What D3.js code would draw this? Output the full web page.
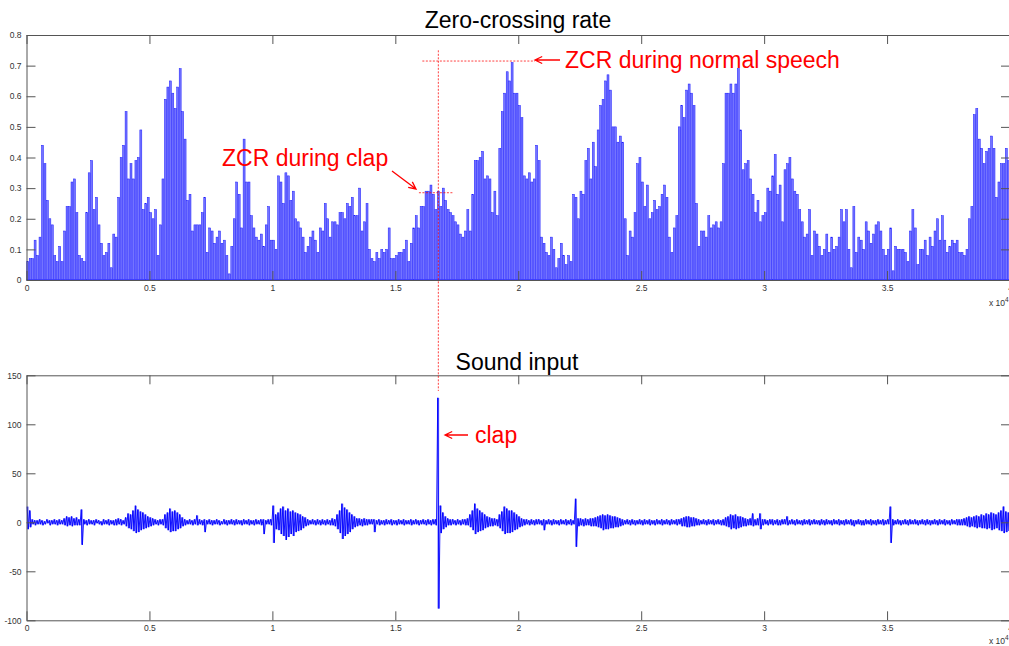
<!DOCTYPE html>
<html>
<head>
<meta charset="utf-8">
<script src="https://cdnjs.cloudflare.com/ajax/libs/d3/7.8.5/d3.min.js"></script>
<style>
body{margin:0;background:#fff;}
svg{display:block;font-family:"Liberation Sans",Arial,sans-serif;}
</style>
</head>
<body>
<svg id="fig" width="1009" height="646"></svg>
<script>
// zero-crossing rate, one value per 100 samples
var zcr = [
 0.06,0.07,0.07,0.13,0.08,0.14,0.44,0.38,0.26,0.20,
 0.18,0.08,0.06,0.11,0.06,0.16,0.24,0.24,0.32,0.33,
 0.22,0.08,0.07,0.06,0.22,0.35,0.39,0.23,0.27,0.18,
 0.12,0.08,0.09,0.12,0.04,0.15,0.14,0.27,0.40,0.44,
 0.55,0.33,0.38,0.33,0.39,0.40,0.49,0.23,0.25,0.27,
 0.22,0.20,0.23,0.08,0.18,0.33,0.59,0.63,0.65,0.61,
 0.56,0.63,0.69,0.55,0.46,0.26,0.28,0.16,0.18,0.18,
 0.18,0.22,0.27,0.09,0.17,0.16,0.12,0.14,0.16,0.12,
 0.13,0.08,0.02,0.11,0.20,0.32,0.28,0.17,0.46,0.32,
 0.32,0.21,0.17,0.14,0.13,0.15,0.11,0.18,0.24,0.13,
 0.13,0.10,0.34,0.32,0.25,0.35,0.34,0.26,0.29,0.20,
 0.19,0.17,0.14,0.09,0.11,0.14,0.16,0.13,0.09,0.17,
 0.16,0.25,0.20,0.14,0.19,0.19,0.18,0.22,0.22,0.20,
 0.25,0.24,0.27,0.21,0.21,0.30,0.16,0.19,0.25,0.10,
 0.07,0.06,0.09,0.07,0.10,0.09,0.10,0.17,0.07,0.07,
 0.08,0.09,0.09,0.10,0.13,0.06,0.12,0.17,0.21,0.17,
 0.24,0.24,0.29,0.29,0.31,0.28,0.23,0.29,0.24,0.30,
 0.26,0.23,0.22,0.21,0.19,0.18,0.15,0.14,0.16,0.23,
 0.16,0.28,0.39,0.39,0.40,0.42,0.33,0.34,0.33,0.22,
 0.29,0.21,0.43,0.55,0.61,0.68,0.65,0.71,0.61,0.61,
 0.57,0.53,0.34,0.33,0.35,0.32,0.33,0.44,0.39,0.14,
 0.12,0.09,0.08,0.14,0.10,0.04,0.07,0.12,0.08,0.05,
 0.08,0.06,0.28,0.27,0.20,0.29,0.28,0.39,0.43,0.33,
 0.45,0.37,0.49,0.57,0.59,0.65,0.67,0.62,0.50,0.50,
 0.45,0.47,0.45,0.20,0.08,0.16,0.14,0.22,0.38,0.40,
 0.32,0.24,0.31,0.20,0.22,0.26,0.23,0.24,0.28,0.31,
 0.27,0.14,0.09,0.17,0.21,0.50,0.57,0.53,0.62,0.64,
 0.61,0.57,0.25,0.11,0.16,0.16,0.14,0.21,0.17,0.18,
 0.19,0.17,0.19,0.38,0.61,0.61,0.64,0.61,0.64,0.69,
 0.49,0.36,0.38,0.39,0.33,0.28,0.22,0.26,0.19,0.21,
 0.22,0.30,0.29,0.34,0.41,0.28,0.31,0.19,0.36,0.38,
 0.40,0.33,0.29,0.28,0.23,0.19,0.14,0.15,0.23,0.08,
 0.16,0.15,0.11,0.08,0.10,0.15,0.09,0.14,0.10,0.11,
 0.14,0.23,0.19,0.23,0.10,0.04,0.24,0.09,0.14,0.13,
 0.10,0.19,0.16,0.12,0.15,0.18,0.19,0.16,0.10,0.08,
 0.10,0.17,0.03,0.11,0.10,0.10,0.10,0.09,0.06,0.16,
 0.23,0.17,0.05,0.10,0.10,0.13,0.08,0.14,0.11,0.16,
 0.20,0.13,0.21,0.13,0.09,0.11,0.13,0.12,0.13,0.09,
 0.09,0.08,0.10,0.20,0.24,0.54,0.56,0.46,0.43,0.38,
 0.42,0.43,0.47,0.43,0.27,0.32,0.38,0.38,0.43,0.39
];
var hop = 100;

// sound input, max / min of every 100 samples
var wavMax = [
 16,12,3,2,2,3,2,1,3,2,2,3,2,3,2,4,6,5,6,4,
 5,3,13,3,2,3,2,2,3,2,1,3,2,3,2,2,3,4,3,2,
 5,9,8,12,17,13,11,10,8,6,5,4,3,2,3,3,8,10,14,11,
 12,10,8,5,3,2,3,2,3,7,3,2,3,2,3,2,2,3,2,1,
 3,2,2,3,2,3,2,2,3,2,3,2,2,3,2,3,3,2,3,3,
 17,8,10,14,16,12,14,11,12,10,9,8,6,5,3,2,3,2,3,2,
 3,2,3,2,4,3,8,12,19,15,13,10,8,6,4,4,3,4,3,3,
 3,3,2,3,2,2,3,2,3,2,2,3,2,3,2,2,3,2,3,2,
 2,3,2,3,2,3,3,127,17,10,6,4,3,3,2,3,2,3,3,4,
 8,12,19,14,12,10,8,6,5,4,4,3,8,11,16,14,12,12,10,8,
 6,4,3,3,2,3,2,3,3,2,3,2,3,2,3,2,2,3,2,3,
 2,3,2,24,4,4,3,4,3,4,4,5,6,7,8,7,8,7,6,6,
 5,4,3,2,3,2,3,2,2,3,2,3,2,3,2,2,3,2,3,2,
 3,2,3,2,3,3,4,5,6,6,5,5,4,3,2,3,2,3,2,3,
 2,3,2,3,5,6,8,7,8,6,6,5,4,3,4,9,3,4,9,3,
 3,2,3,3,2,3,2,3,3,6,2,3,2,3,2,2,3,2,3,2,
 3,2,2,3,2,3,2,2,3,2,3,2,2,3,2,3,2,2,3,2,
 2,3,2,3,2,2,3,2,3,2,3,16,3,2,3,2,2,3,2,3,
 2,3,2,2,3,2,3,2,2,3,2,3,2,3,2,2,3,2,3,3,
 3,4,5,6,5,6,7,6,8,7,9,8,10,9,8,10,12,16,11,10
];
var wavMin = [
 -7,-5,-2,-3,-2,-2,-3,-2,-1,-3,-2,-2,-3,-2,-2,-3,-4,-3,-4,-3,
 -3,-3,-23,-2,-3,-2,-2,-3,-1,-2,-3,-2,-2,-3,-2,-3,-3,-2,-3,-2,
 -4,-6,-7,-9,-11,-10,-8,-7,-6,-5,-4,-3,-2,-3,-2,-3,-6,-8,-10,-9,
 -9,-7,-6,-4,-3,-2,-2,-3,-2,-3,-2,-3,-10,-2,-2,-3,-2,-2,-3,-2,
 -2,-3,-2,-2,-3,-2,-2,-3,-2,-2,-3,-2,-3,-2,-2,-3,-12,-2,-2,-3,
 -21,-7,-8,-12,-14,-18,-15,-12,-14,-10,-9,-8,-6,-4,-3,-2,-2,-3,-2,-3,
 -2,-3,-2,-3,-3,-4,-7,-11,-17,-14,-12,-10,-7,-5,-4,-3,-4,-3,-3,-2,
 -2,-10,-2,-3,-2,-3,-2,-2,-3,-2,-3,-2,-2,-3,-2,-2,-3,-2,-2,-3,
 -2,-2,-3,-2,-3,-2,-3,-88,-11,-7,-5,-3,-3,-2,-3,-2,-3,-2,-3,-3,
 -5,-8,-12,-10,-9,-8,-6,-5,-4,-4,-3,-4,-6,-9,-12,-11,-11,-10,-8,-7,
 -5,-4,-3,-2,-3,-2,-3,-2,-2,-3,-8,-2,-2,-3,-2,-2,-3,-2,-2,-3,
 -2,-3,-2,-25,-4,-3,-4,-3,-3,-4,-4,-4,-5,-6,-8,-7,-7,-6,-6,-5,
 -5,-4,-3,-2,-2,-3,-2,-3,-2,-2,-3,-2,-2,-3,-2,-3,-2,-2,-3,-2,
 -2,-3,-2,-2,-3,-2,-4,-4,-5,-5,-4,-4,-3,-3,-2,-2,-3,-2,-2,-3,
 -2,-2,-3,-3,-4,-5,-7,-6,-7,-6,-5,-4,-4,-3,-3,-4,-3,-3,-7,-3,
 -2,-3,-2,-3,-2,-3,-3,-2,-2,-3,-2,-2,-3,-2,-2,-3,-2,-2,-3,-2,
 -2,-2,-3,-2,-3,-2,-2,-3,-2,-2,-3,-2,-3,-2,-2,-3,-4,-2,-2,-3,
 -3,-2,-2,-3,-2,-3,-2,-2,-3,-2,-2,-21,-3,-2,-2,-3,-2,-2,-3,-2,
 -2,-2,-3,-2,-2,-3,-2,-3,-2,-2,-3,-2,-2,-3,-2,-3,-2,-2,-3,-3,
 -3,-3,-4,-5,-4,-5,-6,-5,-6,-6,-7,-6,-8,-7,-6,-8,-9,-11,-10,-9
];
var col = 100;

var xTicks = [0,5000,10000,15000,20000,25000,30000,35000,40000];
var zcrTicks = [0,0.1,0.2,0.3,0.4,0.5,0.6,0.7,0.8];
var wavTicks = [-100,-50,0,50,100,150];

var clapSample = 16750;

var svg = d3.select('#fig');

var x = d3.scaleLinear().domain([0,40000]).range([26.5,1010]);
var yZ = d3.scaleLinear().domain([0,0.8]).range([280,35]);
var yW = d3.scaleLinear().domain([-100,150]).range([620.3,375.3]);

//bars for the zcr
var bw = x(hop)-x(0);
svg.append('g').selectAll('rect')
  .data(zcr)
  .join('rect')
    .attr('x', function(d,i){return x(i*hop)+0.25;})
    .attr('width', bw-0.5)
    .attr('y', function(d){return yZ(d);})
    .attr('height', function(d){return yZ(0)-yZ(d);})
    .attr('fill','#7474ff')
    .attr('stroke','#1a1aff')
    .attr('stroke-width',0.5);
svg.append('line')
  .attr('x1',x(0)).attr('x2',x(40000)).attr('y1',yZ(0)).attr('y2',yZ(0))
  .attr('stroke','#3a3aff').attr('stroke-width',1.5);

//waveform: min-max strokes per column plus a zigzag through them
svg.append('g').selectAll('line')
  .data(wavMax)
  .join('line')
    .attr('x1', function(d,j){return x(j*col+col/2);})
    .attr('x2', function(d,j){return x(j*col+col/2);})
    .attr('y1', function(d){return yW(d);})
    .attr('y2', function(d,j){return yW(wavMin[j]);})
    .attr('stroke','#2a2aff')
    .attr('stroke-opacity',0.75)
    .attr('stroke-width',1.6);

var wavePts = [];
wavMax.forEach(function(v,j){
  wavePts.push([j*col+col*0.25, v]);
  wavePts.push([j*col+col*0.75, wavMin[j]]);
});
var line = d3.line()
  .x(function(d){return x(d[0]);})
  .y(function(d){return yW(d[1]);});
svg.append('path')
  .attr('d', line(wavePts))
  .attr('fill','none')
  .attr('stroke','#0000ff')
  .attr('stroke-width',0.9);

//axes box with inward ticks
function drawBox(yScale, yTicks, lblY){
  var yb = yScale.range()[0], yt = yScale.range()[1];
  var g = svg.append('g');
  g.append('g').attr('transform','translate(0,'+yb+')')
    .call(d3.axisBottom(x).tickValues(xTicks).tickSizeInner(-9).tickSizeOuter(0).tickPadding(5)
      .tickFormat(function(d){return String(d/1e4);}));
  g.append('g').attr('transform','translate(0,'+yt+')')
    .call(d3.axisTop(x).tickValues(xTicks).tickSizeInner(-9).tickSizeOuter(0).tickFormat(''));
  g.append('g').attr('transform','translate('+x(0)+',0)')
    .call(d3.axisLeft(yScale).tickValues(yTicks).tickSizeInner(-9).tickSizeOuter(0).tickPadding(5)
      .tickFormat(function(d){return String(+d.toFixed(2));}));
  g.append('g').attr('transform','translate('+x(40000)+',0)')
    .call(d3.axisRight(yScale).tickValues(yTicks).tickSizeInner(-9).tickSizeOuter(0).tickFormat(''));
  g.selectAll('.domain').attr('stroke','#555');
  g.selectAll('.tick line').attr('stroke','#555');
  g.selectAll('.tick text').attr('font-size',8.5).attr('fill','#333')
    .attr('font-family','"Liberation Sans",Arial,sans-serif');
  var lbl = g.append('text').attr('x',989).attr('y',lblY).attr('font-size',8.5).attr('fill','#333');
  lbl.append('tspan').text('x 10');
  lbl.append('tspan').attr('dy',-4).attr('font-size',6.5).text('4');
}
drawBox(yZ, zcrTicks, 306);
drawBox(yW, wavTicks, 644);

//titles
svg.append('text').attr('x',518).attr('y',28).attr('text-anchor','middle')
  .attr('font-size',23).attr('fill','#000').text('Zero-crossing rate');
svg.append('text').attr('x',517).attr('y',370).attr('text-anchor','middle')
  .attr('font-size',23).attr('fill','#000').text('Sound input');

//annotations
var red = '#ff0000';
function dotted(x1,y1,x2,y2){
  svg.append('line').attr('x1',x1).attr('y1',y1).attr('x2',x2).attr('y2',y2)
    .attr('stroke',red).attr('stroke-opacity',0.75).attr('stroke-width',1)
    .attr('stroke-dasharray','2,1.5');
}
function arrow(x1,y1,x2,y2){
  var a = Math.atan2(y2-y1,x2-x1), L = 8, s = 0.45;
  svg.append('path')
    .attr('d','M'+x1+','+y1+'L'+x2+','+y2+
      'M'+(x2-L*Math.cos(a-s))+','+(y2-L*Math.sin(a-s))+'L'+x2+','+y2+
      'L'+(x2-L*Math.cos(a+s))+','+(y2-L*Math.sin(a+s)))
    .attr('fill','none').attr('stroke',red).attr('stroke-width',1.3);
}
dotted(x(clapSample), yZ(0.75), x(clapSample), yW(134));
dotted(x(16100), yZ(0.715), x(20680), yZ(0.715));
dotted(x(15960), yZ(0.285), x(17380), yZ(0.285));

arrow(560,60,535,60);
arrow(392,171,416,189);
arrow(468,435,445,435);

svg.append('text').attr('x',565).attr('y',68).attr('font-size',23).attr('fill',red).text('ZCR during normal speech');
svg.append('text').attr('x',222).attr('y',166).attr('font-size',23).attr('fill',red).text('ZCR during clap');
svg.append('text').attr('x',475).attr('y',443).attr('font-size',23).attr('fill',red).text('clap');
</script>
</body>
</html>
